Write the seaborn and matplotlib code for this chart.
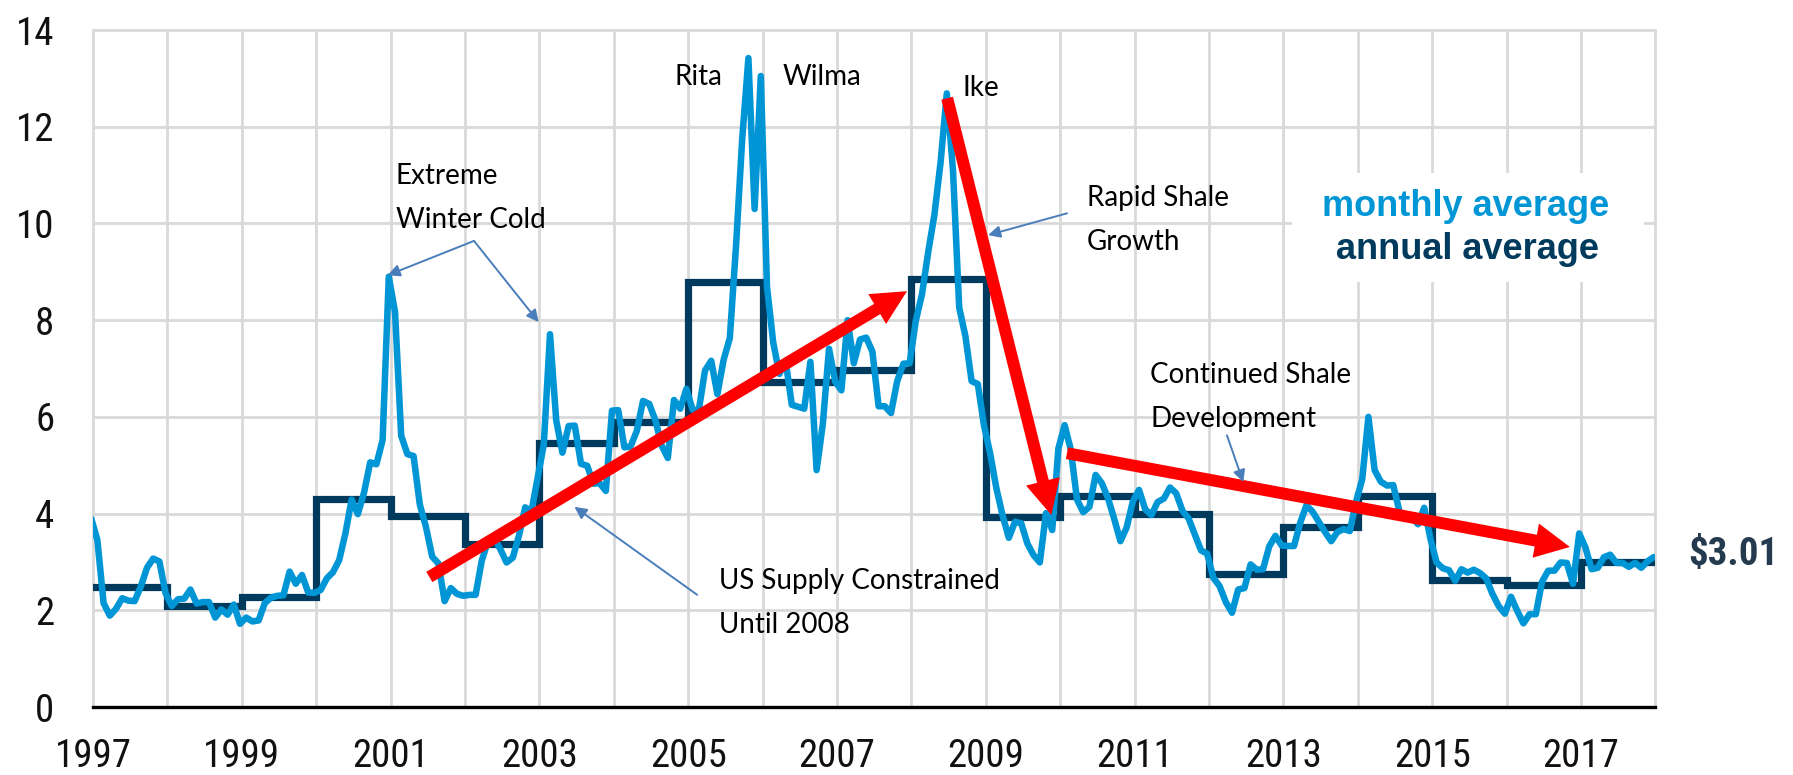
import matplotlib
matplotlib.use('Agg')
import matplotlib.pyplot as plt
import seaborn as sns
import numpy as np
from matplotlib import font_manager as fm
from matplotlib.patches import Rectangle, FancyArrowPatch, ArrowStyle

# Precio Henry Hub, promedio mensual ($/MMBtu), dic 1996 - dic 2017
monthly_price = [
    3.90,
    3.45, 2.15, 1.89, 2.03, 2.25, 2.20, 2.19, 2.49, 2.88, 3.07, 3.01, 2.35,   # 1997
    2.09, 2.23, 2.24, 2.43, 2.14, 2.17, 2.17, 1.85, 2.02, 1.91, 2.12, 1.72,   # 1998
    1.85, 1.77, 1.79, 2.15, 2.26, 2.30, 2.31, 2.80, 2.55, 2.73, 2.37, 2.36,   # 1999
    2.42, 2.66, 2.79, 3.04, 3.59, 4.29, 3.99, 4.43, 5.06, 5.02, 5.52, 8.90,   # 2000
    8.17, 5.61, 5.23, 5.19, 4.19, 3.72, 3.11, 2.97, 2.19, 2.46, 2.34, 2.30,   # 2001
    2.32, 2.32, 3.03, 3.43, 3.50, 3.26, 2.99, 3.09, 3.55, 4.13, 4.04, 4.74,   # 2002
    5.43, 7.71, 5.93, 5.26, 5.81, 5.82, 5.03, 4.99, 4.62, 4.63, 4.47, 6.13,   # 2003
    6.14, 5.37, 5.39, 5.71, 6.33, 6.27, 5.93, 5.41, 5.15, 6.35, 6.17, 6.58,   # 2004
    6.15, 6.14, 6.96, 7.16, 6.47, 7.18, 7.63, 9.53, 11.75, 13.42, 10.30, 13.05,  # 2005
    8.69, 7.54, 6.89, 7.16, 6.25, 6.21, 6.17, 7.14, 4.90, 5.85, 7.41, 6.73,   # 2006
    6.55, 8.00, 7.11, 7.60, 7.64, 7.35, 6.22, 6.22, 6.08, 6.74, 7.10, 7.11,   # 2007
    7.99, 8.54, 9.41, 10.18, 11.27, 12.69, 11.09, 8.26, 7.67, 6.74, 6.68, 5.82,  # 2008
    5.24, 4.52, 3.96, 3.50, 3.83, 3.80, 3.38, 3.14, 2.99, 4.01, 3.66, 5.35,   # 2009
    5.83, 5.32, 4.29, 4.03, 4.14, 4.80, 4.63, 4.32, 3.89, 3.43, 3.71, 4.25,   # 2010
    4.49, 4.09, 3.97, 4.24, 4.31, 4.54, 4.42, 4.06, 3.90, 3.57, 3.24, 3.17,   # 2011
    2.67, 2.50, 2.17, 1.95, 2.43, 2.46, 2.95, 2.84, 2.85, 3.32, 3.54, 3.34,   # 2012
    3.33, 3.33, 3.81, 4.17, 4.04, 3.83, 3.62, 3.43, 3.62, 3.68, 3.64, 4.24,   # 2013
    4.71, 6.00, 4.90, 4.66, 4.58, 4.59, 4.05, 3.91, 3.92, 3.78, 4.12, 3.48,   # 2014
    2.99, 2.87, 2.83, 2.61, 2.85, 2.78, 2.84, 2.77, 2.66, 2.34, 2.09, 1.93,   # 2015
    2.28, 1.99, 1.73, 1.92, 1.92, 2.59, 2.82, 2.82, 2.99, 2.98, 2.55, 3.59,   # 2016
    3.30, 2.85, 2.88, 3.10, 3.15, 2.98, 2.98, 2.90, 2.98, 2.88, 3.01, 3.10,   # 2017
]

# Promedio anual
years = list(range(1997, 2018))
annual_price = [2.49, 2.09, 2.27, 4.31, 3.96, 3.38, 5.47, 5.89, 8.80, 6.73, 6.97,
                8.86, 3.94, 4.37, 4.00, 2.75, 3.73, 4.37, 2.62, 2.52, 3.00]

x_ticks = list(range(1997, 2019))
x_tick_labels = [str(y) if y % 2 == 1 else '' for y in x_ticks]
y_ticks = [0, 2, 4, 6, 8, 10, 12, 14]
last_price_label = r'\$3.01'

# Colores
blue = '#0096d6'
navy = '#003a5d'
red = '#ff0000'
note_blue = '#4a7ebb'

# Fuentes: buscar una sans estrecha, si no hay usar Liberation Sans un poco mas chica
available = {f.name for f in fm.fontManager.ttflist}
narrow = None
for cand in ['Liberation Sans Narrow', 'Arial Narrow', 'Roboto Condensed',
             'Open Sans Condensed', 'Noto Sans Condensed']:
    if cand in available:
        narrow = cand
        break
if narrow is not None:
    tick_font, tick_size = narrow, 28
else:
    tick_font, tick_size = 'Liberation Sans', 26
note_font = 'Lato' if 'Lato' in available else 'DejaVu Sans'

sns.set_style('white')
plt.rcParams['font.family'] = [tick_font, 'DejaVu Sans']

fig = plt.figure(figsize=(17.93, 7.75), dpi=100)
ax = fig.add_axes([0.0519, 0.0877, 0.8714, 0.8735])

# Posicion de cada mes (casi al final del mes)
month_x = 1997 + (np.arange(len(monthly_price)) - 0.3) / 12

step_x = years + [2018]
step_y = annual_price + [annual_price[-1]]

sns.lineplot(x=step_x, y=step_y, ax=ax, color=navy, linewidth=5.2,
             drawstyle='steps-post', solid_joinstyle='miter', zorder=3, legend=False)
sns.lineplot(x=month_x, y=monthly_price, ax=ax, color=blue, linewidth=4.7,
             zorder=4, legend=False)

ax.set_xlim(1997, 2018)
ax.set_ylim(0, 14)
ax.set_xlabel('')
ax.set_ylabel('')

ax.set_xticks(x_ticks)
ax.set_xticklabels(x_tick_labels)
ax.set_yticks(y_ticks)
ax.grid(True, color='#d9d9d9', linewidth=2.0)
ax.set_axisbelow(True)
for gl in ax.get_xgridlines() + ax.get_ygridlines():
    gl.set_clip_on(False)

ax.tick_params(axis='x', direction='out', length=9.4, width=1.4, color='black',
               pad=13, labelsize=tick_size, labelcolor='#111111')
ax.tick_params(axis='y', length=0, pad=28, labelsize=tick_size, labelcolor='#111111')

for side in ['left', 'right', 'top']:
    ax.spines[side].set_visible(False)
ax.spines['bottom'].set_linewidth(2.4)
ax.spines['bottom'].set_color('black')
ax.spines['bottom'].set_zorder(5)

# Caja de la leyenda
ax.add_patch(Rectangle((2013.12, 8.79), 4.73, 2.25, facecolor='white',
                       edgecolor='none', zorder=1))
ax.text(2015.45, 10.15, 'monthly average', color=blue, fontsize=26,
        fontweight='bold', family='Liberation Sans', ha='center', va='baseline', zorder=5)
ax.text(2015.47, 9.26, 'annual average', color=navy, fontsize=26,
        fontweight='bold', family='Liberation Sans', ha='center', va='baseline', zorder=5)

ax.text(2018.44, 3.15, last_price_label, color='#243b4f', fontsize=tick_size,
        fontweight='bold', ha='left', va='center', clip_on=False)

# Notas
notes = [
    (2001.07, 11.25, 'Extreme\nWinter Cold'),
    (2004.81, 13.30, 'Rita'),
    (2006.27, 13.30, 'Wilma'),
    (2008.69, 13.07, 'Ike'),
    (2010.36, 10.79, 'Rapid Shale\nGrowth'),
    (2011.21, 7.13, 'Continued Shale\nDevelopment'),
    (2005.41, 2.87, 'US Supply Constrained\nUntil 2008'),
]
for nx, ny, txt in notes:
    ax.text(nx, ny, txt, family=note_font, fontsize=20, ha='left', va='top',
            linespacing=1.85, color='black', zorder=7)

# Flechas finas
thin_arrows = [
    ((2002.12, 9.64), (2000.96, 8.93)),
    ((2002.12, 9.64), (2002.99, 7.96)),
    ((2010.09, 10.21), (2009.03, 9.76)),
    ((2005.12, 2.32), (2003.47, 4.14)),
    ((2012.24, 5.62), (2012.46, 4.65)),
]
for tail, head in thin_arrows:
    ax.annotate('', xy=head, xytext=tail,
                arrowprops=dict(arrowstyle='-|>', color=note_blue, lw=1.4,
                                mutation_scale=18, shrinkA=0, shrinkB=0),
                zorder=7)

# Flechas rojas de tendencia
red_arrows = [
    ((2001.52, 2.69), (2007.94, 8.60)),
    ((2008.48, 12.59), (2009.88, 3.97)),
    ((2010.09, 5.25), (2016.85, 3.31)),
]
style = ArrowStyle.Simple(head_length=25, head_width=25, tail_width=8.6)
for tail, head in red_arrows:
    arr = FancyArrowPatch(posA=tail, posB=head, arrowstyle=style, mutation_scale=1,
                          color=red, lw=0, shrinkA=0, shrinkB=0, zorder=6)
    ax.add_patch(arr)

fig.savefig('out.png', dpi=100)
plt.close(fig)
